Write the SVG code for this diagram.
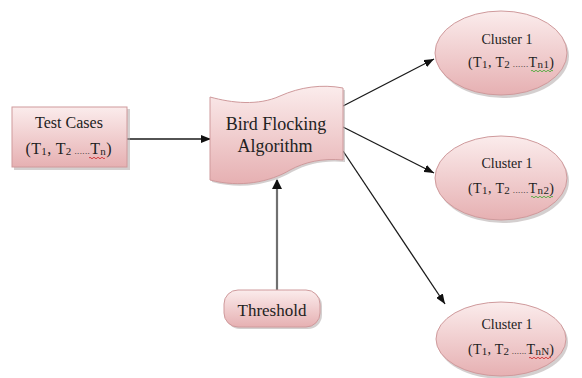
<svg xmlns="http://www.w3.org/2000/svg" width="582" height="378" viewBox="0 0 582 378">
<style>
text{font-family:'Liberation Serif','DejaVu Serif',serif;fill:#222;text-anchor:middle}
.shape{stroke:#cf9a9c;stroke-width:1}
.edge{stroke:#1a1a1a;stroke-width:1.3;fill:none}
.gray{stroke:#707070;stroke-width:2.2;fill:none}
.sub{font-size:11px}
.dots{font-size:9px}
.shadow{fill:#b0a8a8;opacity:0.55}
.squig{fill:none;stroke-width:0.9}
</style>
<defs>
<linearGradient id="g" x1="0" y1="0" x2="0" y2="1">
<stop offset="0" stop-color="#fbecec"/>
<stop offset="1" stop-color="#e6b0b2"/>
</linearGradient>
<marker id="ah" markerWidth="10" markerHeight="8" refX="10" refY="4" orient="auto" markerUnits="userSpaceOnUse">
<path d="M0,0 L10,4 L0,8 Z" fill="#111"/>
</marker>
<marker id="ahg" markerWidth="10" markerHeight="10" refX="9" refY="5" orient="auto" markerUnits="userSpaceOnUse">
<path d="M0,0 L10,5 L0,10 Z" fill="#111"/>
</marker>
</defs>

<g id="connectors">
<line class="edge" x1="127" y1="139" x2="211" y2="139" marker-end="url(#ah)"/>
<line class="edge" x1="343" y1="106" x2="434" y2="59" marker-end="url(#ah)"/>
<line class="edge" x1="343" y1="127" x2="434" y2="173" marker-end="url(#ah)"/>
<line class="edge" x1="343" y1="151" x2="445" y2="304" marker-end="url(#ah)"/>
<line class="gray" x1="277" y1="290" x2="277" y2="180" marker-end="url(#ahg)"/>
</g>

<g id="test-cases">
<rect class="shadow" x="14" y="109" width="116" height="61"/>
<rect class="shape" x="12" y="107" width="115" height="60" fill="url(#g)"/>
<text x="69" y="128" font-size="16">Test Cases</text>
<text x="68.5" y="154" font-size="16" textLength="86" lengthAdjust="spacing">(T<tspan class="sub" dy="1">1</tspan><tspan dy="-1">, T</tspan><tspan class="sub" dy="1">2</tspan><tspan class="dots" dy="-1"> ......</tspan>T<tspan class="sub" dy="1">n</tspan><tspan dy="-1">)</tspan></text>
<path class="squig" stroke="#d03030" d="M89,158 q1,-1.5 2,0 t2,0 t2,0 t2,0 t2,0 t2,0 t2,0 t2,0"/>
</g>

<g id="bird-flocking">
<path class="shadow" d="M212,99 C234,105 260,108 282,98 C302,89 324,86 345,90 L345,162 C324,160 307,164 292,172 C272,184 242,190 212,182 Z"/>
<path class="shape" fill="url(#g)" d="M210,97 C232,103 258,106 280,96 C300,87 322,84 343,88 L343,160 C322,158 305,162 290,170 C270,182 240,188 210,180 Z"/>
<text x="276" y="130" font-size="18">Bird Flocking</text>
<text x="275" y="152" font-size="18">Algorithm</text>
</g>

<g id="threshold">
<rect class="shadow" x="226" y="292" width="96" height="37" rx="14"/>
<rect class="shape" x="224" y="290" width="96" height="37" rx="14" fill="url(#g)"/>
<text x="272" y="316" font-size="17">Threshold</text>
</g>

<g id="cluster-1">
<ellipse class="shadow" cx="503" cy="56" rx="66" ry="42"/>
<ellipse class="shape" cx="501" cy="53" rx="66" ry="42" fill="url(#g)"/>
<text x="507" y="44" font-size="14">Cluster 1</text>
<text x="511" y="67" font-size="14" textLength="86" lengthAdjust="spacing">(T<tspan class="sub" dy="1">1</tspan><tspan dy="-1">, T</tspan><tspan class="sub" dy="1">2</tspan><tspan class="dots" dy="-1"> ......</tspan>T<tspan class="sub" dy="1">n1</tspan><tspan dy="-1">)</tspan></text>
<path class="squig" stroke="#4caa3a" d="M531,71 q1,-1.5 2,0 t2,0 t2,0 t2,0 t2,0 t2,0 t2,0 t2,0 t2,0 t2,0 t2,0"/>
</g>

<g id="cluster-2">
<ellipse class="shadow" cx="503" cy="181" rx="66" ry="42"/>
<ellipse class="shape" cx="501" cy="178" rx="66" ry="42" fill="url(#g)"/>
<text x="507" y="168" font-size="14">Cluster 1</text>
<text x="511" y="193" font-size="14" textLength="86" lengthAdjust="spacing">(T<tspan class="sub" dy="1">1</tspan><tspan dy="-1">, T</tspan><tspan class="sub" dy="1">2</tspan><tspan class="dots" dy="-1"> ......</tspan>T<tspan class="sub" dy="1">n2</tspan><tspan dy="-1">)</tspan></text>
<path class="squig" stroke="#4caa3a" d="M531,197 q1,-1.5 2,0 t2,0 t2,0 t2,0 t2,0 t2,0 t2,0 t2,0 t2,0 t2,0 t2,0"/>
</g>

<g id="cluster-3">
<ellipse class="shadow" cx="503" cy="342" rx="65" ry="37"/>
<ellipse class="shape" cx="501" cy="339" rx="65" ry="37" fill="url(#g)"/>
<text x="507" y="329" font-size="14">Cluster 1</text>
<text x="511" y="354" font-size="14" textLength="86" lengthAdjust="spacing">(T<tspan class="sub" dy="1">1</tspan><tspan dy="-1">, T</tspan><tspan class="sub" dy="1">2</tspan><tspan class="dots" dy="-1"> ......</tspan>T<tspan class="sub" dy="1">nN</tspan><tspan dy="-1">)</tspan></text>
<path class="squig" stroke="#d03030" d="M529,358 q1,-1.5 2,0 t2,0 t2,0 t2,0 t2,0 t2,0 t2,0 t2,0 t2,0 t2,0 t2,0"/>
</g>
</svg>
